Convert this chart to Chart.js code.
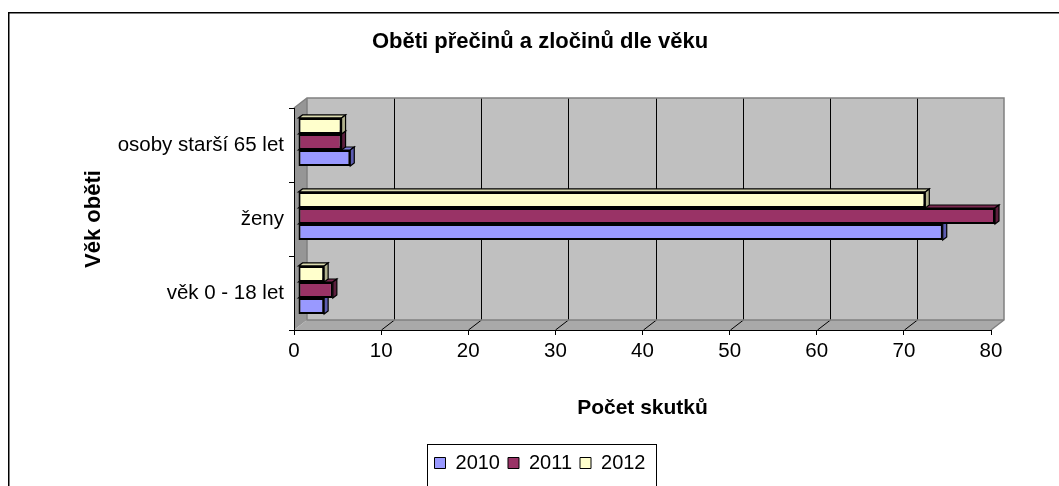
<!DOCTYPE html>
<html>
<head>
<meta charset="utf-8">
<script src="https://cdn.jsdelivr.net/npm/chart.js@4/dist/chart.umd.min.js"></script>
<style>
  html, body { margin: 0; padding: 0; background: #ffffff; }
  #wrap { width: 1059px; height: 486px; position: relative; }
</style>
</head>
<body>
<div id="wrap"><canvas id="c" width="1059" height="486"></canvas></div>
<script>
// ---- data ----
const categories = ['osoby starší 65 let', 'ženy', 'věk 0 - 18 let'];
const years = ['2010', '2011', '2012'];
const values2010 = [6, 74, 3];
const values2011 = [5, 80, 4];
const values2012 = [5, 72, 3];
const xTickMin = 0;
const xTickMax = 80;
const xTickStep = 10;

const chartTitle = 'Oběti přečinů a zločinů dle věku';
const xAxisTitle = 'Počet skutků';
const yAxisTitle = 'Věk oběti';

// ---- styles ----
const FONT = "'Liberation Sans', Arial, sans-serif";
const colors = {
  '2010': { front: '#9999FF', top: '#7d7dd6', side: '#5c5cb0' },
  '2011': { front: '#993366', top: '#7a2950', side: '#5c1f3d' },
  '2012': { front: '#FFFFCC', top: '#dcdcb0', side: '#b0b08c' }
};
const DX = 13, DY = -10;   // wall depth
const BDX = 4, BDY = -3;   // bar depth / offset

function poly(ctx, pts) {
  ctx.beginPath();
  ctx.moveTo(pts[0][0], pts[0][1]);
  for (let i = 1; i < pts.length; i++) ctx.lineTo(pts[i][0], pts[i][1]);
  ctx.closePath();
}

const wallPlugin = {
  id: 'walls',
  beforeDraw(chart) {
    const { ctx, chartArea: a, scales: { x } } = chart;
    ctx.save();
    // outer frame
    ctx.strokeStyle = '#000';
    ctx.lineWidth = 1.5;
    ctx.beginPath();
    ctx.moveTo(8.75, 490);
    ctx.lineTo(8.75, 12.75);
    ctx.lineTo(1070, 12.75);
    ctx.stroke();

    // left side wall
    ctx.fillStyle = '#969696';
    poly(ctx, [[a.left, a.top], [a.left + DX, a.top + DY], [a.left + DX, a.bottom + DY], [a.left, a.bottom]]);
    ctx.fill();
    // floor
    ctx.fillStyle = '#a9a9a9';
    poly(ctx, [[a.left, a.bottom], [a.right, a.bottom], [a.right + DX, a.bottom + DY], [a.left + DX, a.bottom + DY]]);
    ctx.fill();
    // back wall
    ctx.fillStyle = '#c0c0c0';
    ctx.fillRect(a.left + DX, a.top + DY, a.right - a.left, a.bottom - a.top);

    // grid lines on floor + back wall
    ctx.lineWidth = 1;
    ctx.strokeStyle = '#000';
    for (let v = xTickMin + xTickStep; v < xTickMax; v += xTickStep) {
      const px = Math.round(x.getPixelForValue(v)) + 0.5;
      ctx.beginPath();
      ctx.moveTo(px, a.bottom);
      ctx.lineTo(px + DX, a.bottom + DY);
      ctx.lineTo(px + DX, a.top + DY);
      ctx.stroke();
    }
    // wall edges
    ctx.strokeStyle = '#808080';
    ctx.lineWidth = 1.5;
    ctx.beginPath();
    ctx.moveTo(a.left, a.top);
    ctx.lineTo(a.left + DX, a.top + DY);
    ctx.lineTo(a.right + DX, a.top + DY);
    ctx.lineTo(a.right + DX, a.bottom + DY);
    ctx.lineTo(a.right, a.bottom);
    ctx.stroke();
    ctx.beginPath();
    ctx.moveTo(a.left + DX, a.top + DY);
    ctx.lineTo(a.left + DX, a.bottom + DY);
    ctx.lineTo(a.right + DX, a.bottom + DY);
    ctx.stroke();
    ctx.restore();
  }
};

const bar3dPlugin = {
  id: 'bar3d',
  beforeDatasetsDraw(chart) {
    const ctx = chart.ctx;
    ctx.save();
    ctx.translate(BDX, BDY);
    // draw depth faces, visually lower bars first
    const n = chart.data.datasets.length;
    for (let d = n - 1; d >= 0; d--) {
      const ds = chart.data.datasets[d];
      const c = colors[ds.label];
      const meta = chart.getDatasetMeta(d);
      meta.data.forEach(el => {
        const p = el.getProps(['x', 'y', 'base', 'height'], true);
        const t = p.y - p.height / 2, b = p.y + p.height / 2;
        const l = Math.min(p.base, p.x), r = Math.max(p.base, p.x);
        ctx.lineWidth = 1.2;
        ctx.strokeStyle = '#000';
        // top face
        ctx.fillStyle = c.top;
        poly(ctx, [[l, t], [r, t], [r + BDX, t + BDY], [l + BDX, t + BDY]]);
        ctx.fill(); ctx.stroke();
        // right face
        ctx.fillStyle = c.side;
        poly(ctx, [[r, t], [r + BDX, t + BDY], [r + BDX, b + BDY], [r, b]]);
        ctx.fill(); ctx.stroke();
      });
    }
  },
  afterDatasetsDraw(chart) {
    chart.ctx.restore();
  }
};

const legendFramePlugin = {
  id: 'legendFrame',
  afterDraw(chart) {
    const lg = chart.legend;
    if (!lg || !lg.legendHitBoxes || !lg.legendHitBoxes.length) return;
    const hb = lg.legendHitBoxes;
    let l = Infinity, r = -Infinity, t = Infinity;
    hb.forEach(h => { l = Math.min(l, h.left); r = Math.max(r, h.left + h.width); t = Math.min(t, h.top); });
    const ctx = chart.ctx;
    ctx.save();
    ctx.strokeStyle = '#000';
    ctx.lineWidth = 1;
    ctx.strokeRect(Math.round(l - 8) + 0.5, Math.round(t - 9) + 0.5, Math.round(r - l + 18), 80);
    ctx.restore();
  }
};

const datasets = [
  { label: years[2], data: values2012 },
  { label: years[1], data: values2011 },
  { label: years[0], data: values2010 }
].map(ds => ({
  ...ds,
  backgroundColor: colors[ds.label].front,
  borderColor: '#000',
  borderWidth: 2,
  borderSkipped: false,
  categoryPercentage: 0.65,
  barPercentage: 1.0,
  clip: false
}));

new Chart(document.getElementById('c'), {
  type: 'bar',
  data: { labels: categories, datasets },
  plugins: [wallPlugin, bar3dPlugin, legendFramePlugin],
  options: {
    indexAxis: 'y',
    responsive: false,
    animation: false,
    layout: { padding: { top: 0, left: 21, right: 0, bottom: 3 } },
    plugins: {
      title: {
        display: true,
        text: chartTitle,
        color: '#000',
        font: { family: FONT, size: 22, weight: 'bold' },
        padding: { top: 29, bottom: 52.6 }
      },
      legend: {
        position: 'bottom',
        reverse: true,
        labels: {
          color: '#000',
          font: { family: FONT, size: 20 },
          boxWidth: 11,
          boxHeight: 11,
          padding: 8,
          generateLabels(chart) {
            return Chart.defaults.plugins.legend.labels.generateLabels(chart).map(it => ({ ...it, lineWidth: 1 }));
          }
        }
      },
      tooltip: { enabled: false }
    },
    scales: {
      x: {
        type: 'linear',
        position: 'bottom',
        min: xTickMin,
        max: xTickMax,
        ticks: { stepSize: xTickStep, color: '#000', font: { family: FONT, size: 20.5 }, padding: 4 },
        grid: { drawOnChartArea: false, drawTicks: true, tickLength: 5, color: '#000', lineWidth: 1 },
        border: { display: true, color: '#000', width: 1 },
        title: { display: true, text: xAxisTitle, color: '#000', font: { family: FONT, size: 21, weight: 'bold' }, padding: { top: 0, bottom: 24 } },
        afterFit(scale) {
          const lh = scale.chart.legend ? scale.chart.legend.height : 42;
          scale.height = 486 - 3 - lh - 330;
        }
      },
      y: {
        type: 'category',
        position: 'left',
        offset: true,
        ticks: { color: '#000', font: { family: FONT, size: 20.5 }, padding: 5 },
        grid: { drawOnChartArea: false, drawTicks: true, tickLength: 5, color: '#000', lineWidth: 1, offset: true },
        border: { display: true, color: '#000', width: 1 },
        title: { display: true, text: yAxisTitle, color: '#000', font: { family: FONT, size: 22, weight: 'bold' }, padding: { top: 60, bottom: 0 } },
        afterFit(scale) { scale.width = 294 - 21; }
      },
      yRightSpace: {
        type: 'linear',
        position: 'right',
        display: true,
        ticks: { display: false },
        grid: { display: false },
        border: { display: false },
        afterFit(scale) { scale.width = 1059 - 991; }
      }
    }
  }
});
</script>
</body>
</html>
